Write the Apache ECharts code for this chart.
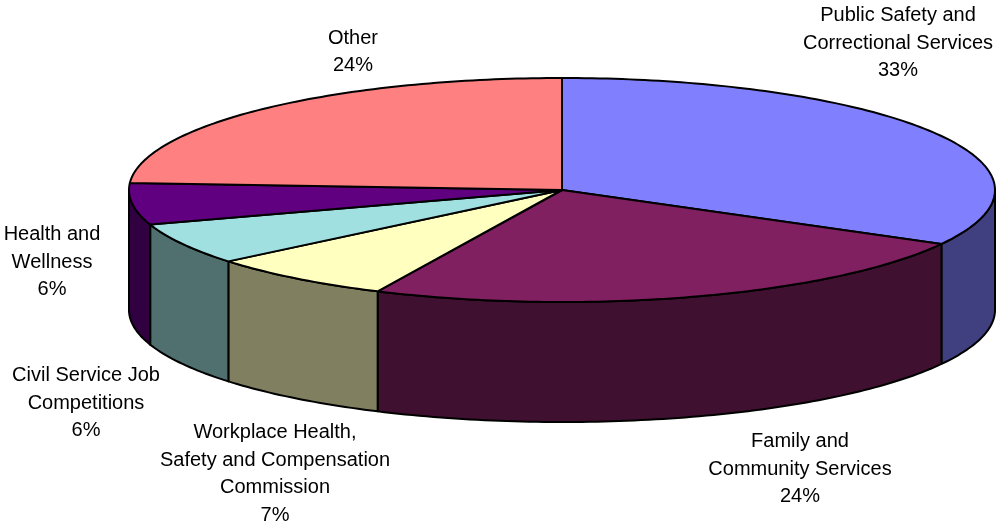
<!DOCTYPE html>
<html>
<head>
<meta charset="utf-8">
<script src="https://cdn.jsdelivr.net/npm/echarts@6/dist/echarts.min.js"></script>
<style>
  html, body { margin: 0; padding: 0; background: #fff; }
  #main { width: 996px; height: 523px; }
</style>
</head>
<body>
<div id="main"></div>
<script>
// slices, clockwise from 12 o'clock
const categories = [
    'Public Safety and\nCorrectional Services',
    'Family and\nCommunity Services',
    'Workplace Health,\nSafety and Compensation\nCommission',
    'Civil Service Job\nCompetitions',
    'Health and\nWellness',
    'Other'
]
const shares = [33, 24, 7, 6, 6, 24]

// styles / layout (not data)
const topColors = ['#8080ff', '#802060', '#ffffc0', '#a0e0e0', '#600080', '#ff8080']
const sideColors = ['#404080', '#401030', '#808060', '#507070', '#300040', '#804040']
const labelCenters = [[898, 43], [800, 469], [275, 474], [86, 403], [52, 262], [353, 52]]
const pie = { cx: 562, cy: 190, rx: 433, ry: 112, depth: 120 }

const total = shares.reduce((a, b) => a + b, 0)
const starts = []
let acc = 0
shares.forEach(v => { starts.push(acc); acc += v })

function pt(deg, dy) {
    const r = deg * Math.PI / 180
    return [pie.cx + pie.rx * Math.sin(r), pie.cy - pie.ry * Math.cos(r) + (dy || 0)]
}
function arc(a1, a2, dy) {
    const pts = []
    const n = Math.max(2, Math.ceil(Math.abs(a2 - a1)))
    for (let i = 0; i <= n; i++) pts.push(pt(a1 + (a2 - a1) * i / n, dy))
    return pts
}

function renderItem(params, api) {
    const i = params.dataIndex
    const a1 = starts[i] / total * 360
    const a2 = (starts[i] + api.value(0)) / total * 360
    const children = []
    // front wall (visible only between 90 and 270 deg)
    const w1 = Math.max(a1, 90), w2 = Math.min(a2, 270)
    if (w2 > w1) {
        const top = arc(w1, w2, 0)
        const bottom = arc(w2, w1, pie.depth)
        children.push({
            type: 'polygon',
            shape: { points: top.concat(bottom) },
            style: { fill: sideColors[i], stroke: '#000', lineWidth: 2, lineJoin: 'round' }
        })
    }
    // top face
    children.push({
        type: 'polygon',
        shape: { points: [[pie.cx, pie.cy]].concat(arc(a1, a2, 0)) },
        style: { fill: topColors[i], stroke: '#000', lineWidth: 2, lineJoin: 'round' }
    })
    // label
    const pct = Math.round(api.value(0) / total * 100) + '%'
    children.push({
        type: 'text',
        x: labelCenters[i][0],
        y: labelCenters[i][1],
        style: {
            text: categories[i] + '\n' + pct,
            fill: '#000',
            fontFamily: 'Liberation Sans, Arial, sans-serif',
            fontSize: 20,
            lineHeight: 27.5,
            align: 'center',
            verticalAlign: 'middle'
        }
    })
    return { type: 'group', children: children }
}

const chart = echarts.init(document.getElementById('main'), null, { renderer: 'canvas' })
chart.setOption({
    animation: false,
    backgroundColor: '#fff',
    series: [{
        type: 'custom',
        coordinateSystem: 'none',
        renderItem: renderItem,
        silent: true,
        data: shares.map((v, i) => [v, i])
    }]
})
</script>
</body>
</html>
